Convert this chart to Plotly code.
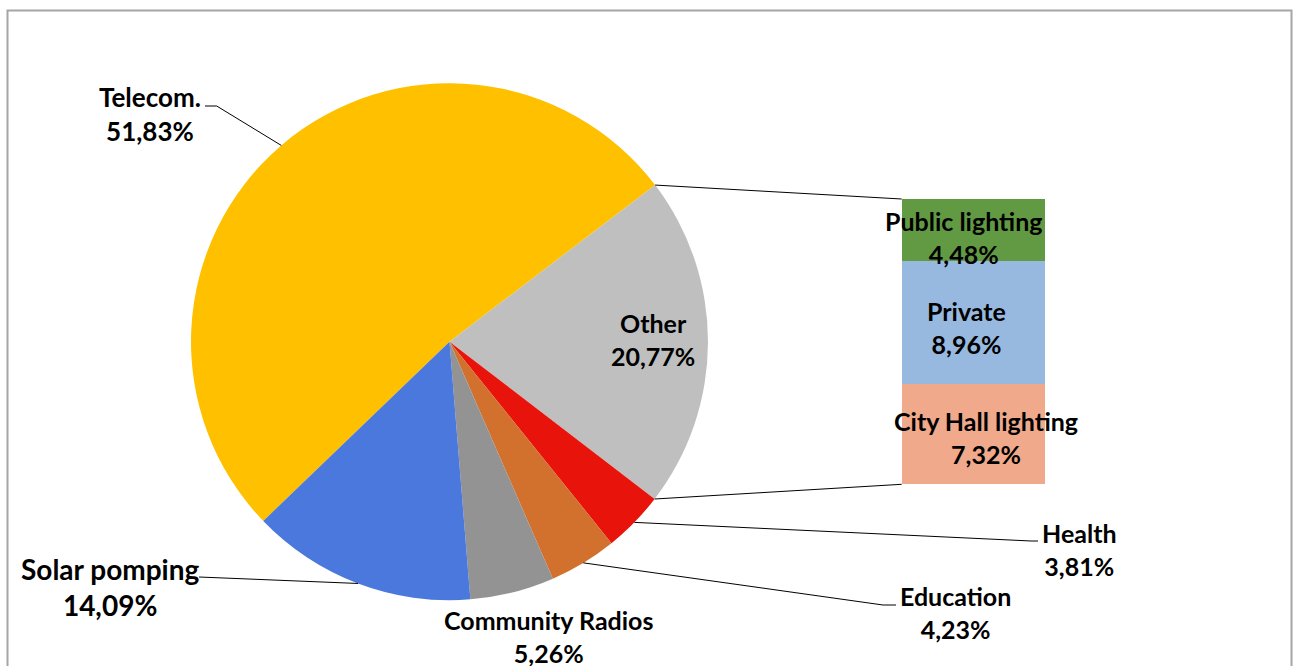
import math
import plotly.graph_objects as go

# ---- data -------------------------------------------------------------
pie_labels = ["Telecom.", "Other", "Health", "Education", "Community Radios", "Solar pomping"]
pie_values = [51.83, 20.77, 3.81, 4.23, 5.26, 14.09]
pie_colors = ["#FFC000", "#BFBFBF", "#E8140C", "#D2702D", "#939393", "#4A78DC"]

# breakdown of the "Other" slice, stacked bottom -> top
bar_labels = ["City Hall lighting", "Private", "Public lighting"]
bar_values = [7.32, 8.96, 4.48]
bar_colors = ["#F0A98B", "#97B9E0", "#629A43"]

# ---- canvas geometry (pixels) -----------------------------------------
W, H = 1293, 666
CX, CY, R = 449.5, 341.7, 258.5          # pie centre / radius
ROTATION = 226.1                          # start angle of first slice (clockwise from 12 o'clock)
BAR_X0, BAR_X1 = 901.7, 1045.0
BAR_Y0, BAR_Y1 = 199.0, 484.3             # top, bottom

FONT = "Lato, 'Open Sans', sans-serif"
FS = 25


def px(x):
    return x / W


def py(y):
    return 1 - y / H


def fmt(v):
    return f"{v:.2f}".replace(".", ",") + "%"


total = sum(pie_values)


def slice_angles(i):
    before = sum(pie_values[:i])
    a0 = ROTATION + 360 * before / total
    a1 = a0 + 360 * pie_values[i] / total
    return a0, a1


def rim_point(angle_deg):
    a = math.radians(angle_deg)
    return CX + R * math.sin(a), CY - R * math.cos(a)


fig = go.Figure()

fig.add_trace(go.Pie(
    labels=pie_labels,
    values=pie_values,
    sort=False,
    direction="clockwise",
    rotation=ROTATION,
    marker=dict(colors=pie_colors, line=dict(width=0)),
    textinfo="none",
    hoverinfo="label+percent",
    showlegend=False,
    domain=dict(x=[px(CX - R), px(CX + R)], y=[py(CY + R), py(CY - R)]),
))

for lab, val, col in zip(bar_labels, bar_values, bar_colors):
    fig.add_trace(go.Bar(
        x=["Other"], y=[val], name=lab,
        marker=dict(color=col, line=dict(width=0)),
        showlegend=False, hoverinfo="name+y",
        xaxis="x", yaxis="y",
    ))

bar_total = sum(bar_values)

shapes = []
annotations = []

# connector lines from the "Other" slice edges to the stacked bar
o0, o1 = slice_angles(pie_labels.index("Other"))
for ang, by in ((o0, BAR_Y0), (o1, BAR_Y1)):
    sx, sy = rim_point(ang)
    shapes.append(dict(type="line", xref="paper", yref="paper",
                       x0=px(sx), y0=py(sy), x1=px(BAR_X0), y1=py(by),
                       line=dict(color="#000000", width=1)))

# leader lines: slice mid-point -> elbow -> end
leaders = {
    "Telecom.": [(216.7, 106.0), (205.0, 106.0)],
    "Health": [(1031.0, 541.0), (1038.0, 541.0)],
    "Education": [(883.0, 605.0), (896.0, 605.0)],
    "Solar pomping": [(199.0, 577.0)],
}
for lab, pts in leaders.items():
    a0, a1 = slice_angles(pie_labels.index(lab))
    sx, sy = rim_point((a0 + a1) / 2)
    path = f"M {px(sx)},{py(sy)}"
    for (x, y) in pts:
        path += f" L {px(x)},{py(y)}"
    shapes.append(dict(type="path", xref="paper", yref="paper", path=path,
                       line=dict(color="#000000", width=1)))

# slice labels: (x, y, font size)
label_pos = {
    "Telecom.": (149.5, 114.5, 26),
    "Other": (653.0, 339.0, FS),
    "Health": (1079.0, 549.0, FS),
    "Education": (955.0, 612.5, FS),
    "Community Radios": (548.0, 636.5, FS),
    "Solar pomping": (110.0, 586.5, 28),
}
for lab, val in zip(pie_labels, pie_values):
    x, y, fs = label_pos[lab]
    annotations.append(dict(
        x=px(x), y=py(y), xref="paper", yref="paper",
        text=f"<b>{lab}<br>{fmt(val)}</b>", showarrow=False,
        xanchor="center", yanchor="middle", align="center",
        font=dict(family=FONT, size=fs, color="#000000"),
    ))

# bar segment labels
bar_label_pos = {
    "Public lighting": (963.0, 237.5),
    "Private": (966.7, 327.5),
    "City Hall lighting": (986.0, 437.0),
}
for lab, val in zip(bar_labels, bar_values):
    x, y = bar_label_pos[lab]
    annotations.append(dict(
        x=px(x), y=py(y), xref="paper", yref="paper",
        text=f"<b>{lab}<br>{fmt(val)}</b>", showarrow=False,
        xanchor="center", yanchor="middle", align="center",
        font=dict(family=FONT, size=FS, color="#000000"),
    ))

# outer chart frame
shapes.append(dict(type="rect", xref="paper", yref="paper",
                   x0=px(7.5), y0=py(690), x1=px(1291.5), y1=py(10.5),
                   line=dict(color="#A6A6A6", width=2), fillcolor="rgba(0,0,0,0)",
                   layer="below"))

fig.update_layout(
    width=W, height=H,
    margin=dict(l=0, r=0, t=0, b=0),
    paper_bgcolor="#FFFFFF", plot_bgcolor="rgba(0,0,0,0)",
    barmode="stack", bargap=0,
    xaxis=dict(domain=[px(BAR_X0), px(BAR_X1)], range=[-0.5, 0.5],
               visible=False, fixedrange=True),
    yaxis=dict(domain=[py(BAR_Y1), py(BAR_Y0)], range=[0, bar_total],
               visible=False, fixedrange=True),
    shapes=shapes,
    annotations=annotations,
    font=dict(family=FONT),
)

fig.write_html("out.html")
